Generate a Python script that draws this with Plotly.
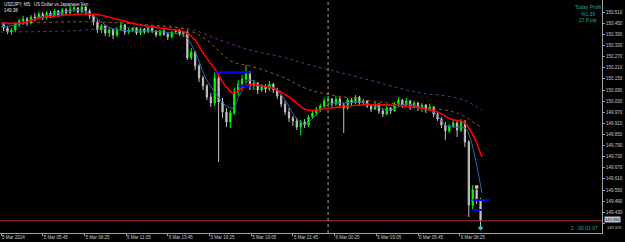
import plotly.graph_objects as go

# ---- data -------------------------------------------------------------
# 15-minute candles placed on the M5 bar index (bar 0 = 5 Mar 03:05)
candle_bar = list(range(2, 369, 3))

opens = [150.446, 150.425, 150.403, 150.414, 150.446, 150.463, 150.473, 150.452, 150.484, 150.479,
         150.500, 150.479, 150.506, 150.490, 150.517, 150.495, 150.522, 150.506, 150.527, 150.533,
         150.511, 150.538, 150.517, 150.490, 150.457, 150.414, 150.436, 150.398, 150.414, 150.387,
         150.419, 150.441, 150.403, 150.414, 150.425, 150.398, 150.419, 150.403, 150.425, 150.409,
         150.387, 150.409, 150.392, 150.376, 150.403, 150.414, 150.392, 150.403, 150.263, 150.295,
         150.220, 150.155, 150.112, 150.052, 150.020, 150.155, 150.025, 149.971, 149.917, 149.966,
         150.079, 150.122, 150.149, 150.176, 150.112, 150.128, 150.090, 150.112, 150.095, 150.122,
         150.090, 150.058, 150.014, 149.971, 149.939, 149.923, 149.890, 149.917, 149.901, 149.944,
         149.966, 149.987, 150.004, 150.031, 150.041, 150.014, 150.041, 150.009, 149.993, 150.036,
         150.020, 150.052, 150.020, 150.031, 150.004, 149.987, 150.014, 149.977, 149.960, 149.993,
         149.977, 150.014, 150.036, 150.009, 150.031, 149.998, 150.020, 149.993, 150.009, 149.982,
         149.998, 149.960, 149.933, 149.901, 149.869, 149.896, 149.912, 149.874, 149.917, 149.809,
         149.469, 149.550, 149.496]
highs = [150.457, 150.436, 150.425, 150.457, 150.473, 150.490, 150.484, 150.495, 150.506, 150.511,
         150.511, 150.517, 150.517, 150.527, 150.522, 150.533, 150.533, 150.544, 150.549, 150.538,
         150.554, 150.544, 150.527, 150.500, 150.468, 150.446, 150.441, 150.425, 150.419, 150.430,
         150.457, 150.446, 150.425, 150.430, 150.430, 150.425, 150.425, 150.430, 150.436, 150.414,
         150.414, 150.419, 150.398, 150.409, 150.419, 150.419, 150.409, 150.409, 150.317, 150.301,
         150.230, 150.166, 150.122, 150.074, 150.187, 150.166, 150.047, 149.993, 149.982, 150.101,
         150.144, 150.171, 150.225, 150.193, 150.144, 150.133, 150.122, 150.122, 150.139, 150.128,
         150.101, 150.068, 150.031, 149.993, 149.950, 149.939, 149.928, 149.933, 149.955, 149.982,
         149.998, 150.014, 150.047, 150.058, 150.047, 150.058, 150.052, 150.020, 150.047, 150.047,
         150.063, 150.058, 150.041, 150.036, 150.014, 150.025, 150.020, 149.987, 150.004, 149.998,
         150.025, 150.052, 150.041, 150.047, 150.036, 150.031, 150.025, 150.020, 150.014, 150.014,
         150.004, 149.971, 149.944, 149.917, 149.906, 149.928, 149.923, 149.933, 149.928, 149.820,
         149.577, 149.572, 149.507]
lows = [150.409, 150.392, 150.387, 150.403, 150.430, 150.441, 150.436, 150.446, 150.463, 150.473,
        150.468, 150.473, 150.479, 150.484, 150.484, 150.490, 150.495, 150.500, 150.511, 150.500,
        150.506, 150.500, 150.473, 150.441, 150.398, 150.398, 150.382, 150.376, 150.365, 150.376,
        150.409, 150.387, 150.392, 150.403, 150.387, 150.387, 150.392, 150.398, 150.398, 150.376,
        150.382, 150.382, 150.360, 150.371, 150.398, 150.382, 150.376, 150.252, 150.252, 150.198,
        150.133, 150.090, 150.036, 149.998, 150.004, 149.701, 149.939, 149.890, 149.885, 149.955,
        150.058, 150.101, 150.128, 150.090, 150.090, 150.068, 150.079, 150.074, 150.085, 150.074,
        150.041, 149.998, 149.955, 149.917, 149.896, 149.874, 149.847, 149.885, 149.890, 149.933,
        149.950, 149.971, 149.993, 150.014, 149.998, 150.004, 149.993, 149.858, 149.982, 150.004,
        150.014, 150.004, 150.009, 149.993, 149.971, 149.982, 149.960, 149.944, 149.955, 149.960,
        149.971, 150.004, 149.993, 149.998, 149.982, 149.993, 149.977, 149.971, 149.966, 149.977,
        149.944, 149.923, 149.885, 149.820, 149.858, 149.885, 149.836, 149.863, 149.782, 149.404,
        149.442, 149.474, 149.345]
closes = [150.425, 150.403, 150.414, 150.446, 150.463, 150.473, 150.452, 150.484, 150.479, 150.500,
          150.479, 150.506, 150.490, 150.517, 150.495, 150.522, 150.506, 150.527, 150.533, 150.511,
          150.538, 150.517, 150.490, 150.457, 150.414, 150.436, 150.398, 150.414, 150.387, 150.419,
          150.441, 150.403, 150.414, 150.425, 150.398, 150.419, 150.403, 150.425, 150.409, 150.387,
          150.409, 150.392, 150.376, 150.403, 150.414, 150.392, 150.403, 150.263, 150.295, 150.220,
          150.155, 150.112, 150.052, 150.020, 150.155, 150.025, 149.971, 149.917, 149.966, 150.079,
          150.122, 150.149, 150.176, 150.112, 150.128, 150.090, 150.112, 150.095, 150.122, 150.090,
          150.058, 150.014, 149.971, 149.939, 149.923, 149.890, 149.917, 149.901, 149.944, 149.966,
          149.987, 150.004, 150.031, 150.041, 150.014, 150.041, 150.009, 149.993, 150.036, 150.020,
          150.052, 150.020, 150.031, 150.004, 149.987, 150.014, 149.977, 149.960, 149.993, 149.977,
          150.014, 150.036, 150.009, 150.031, 149.998, 150.020, 149.993, 150.009, 149.982, 149.998,
          149.960, 149.933, 149.901, 149.869, 149.896, 149.912, 149.874, 149.917, 149.809, 149.469,
          149.550, 149.496, 149.384]

# moving averages (bar index, value)
red_ma_bar = [0, 15, 30, 51, 66, 76, 91, 107, 122, 141, 149, 155, 163, 173, 178, 183, 189, 196,
              212, 222, 235, 252, 276, 299, 322, 335, 345, 355, 360, 365, 369]
red_ma = [150.452, 150.452, 150.479, 150.495, 150.500, 150.495, 150.468, 150.441, 150.425, 150.403,
          150.360, 150.290, 150.214, 150.106, 150.074, 150.090, 150.117, 150.117, 150.090, 150.047,
          149.982, 149.993, 150.009, 150.009, 149.993, 149.971, 149.933, 149.917, 149.874, 149.804,
          149.728]
orange_ma_bar = [0, 45, 76, 114, 141, 158, 168, 178, 191, 216, 237, 268, 322, 350, 369]
orange_ma = [150.446, 150.457, 150.457, 150.441, 150.419, 150.360, 150.295, 150.241, 150.220,
             150.160, 150.090, 150.047, 149.998, 149.966, 149.885]
purple_ma_bar = [0, 53, 76, 114, 145, 168, 191, 216, 237, 268, 322, 337, 355, 369]
purple_ma = [150.403, 150.409, 150.419, 150.430, 150.419, 150.360, 150.306, 150.268, 150.225,
             150.171, 150.074, 150.063, 150.036, 149.982]
blue_ma_bar = [0, 15, 30, 45, 61, 72, 84, 99, 114, 130, 141, 149, 157, 164, 172, 178, 183, 191,
               199, 210, 218, 226, 233, 241, 252, 264, 276, 287, 299, 310, 322, 333, 341, 348,
               356, 360, 365, 369]
blue_ma = [150.430, 150.446, 150.484, 150.506, 150.522, 150.484, 150.425, 150.409, 150.409, 150.398,
           150.382, 150.295, 150.155, 150.079, 150.009, 149.993, 150.063, 150.144, 150.112, 150.101,
           150.036, 149.944, 149.906, 149.950, 150.014, 150.020, 150.025, 150.004, 149.982, 150.014,
           149.998, 149.966, 149.901, 149.890, 149.885, 149.831, 149.685, 149.534]

# horizontal order levels: (start bar, end bar, price)
order_levels = [(164, 191, 150.186), (182, 191, 150.112), (362, 375, 149.496), (361, 369, 149.442)]

trade_marker_bar = [365]
trade_marker_price = [149.566]
last_marker_bar = [368]
last_marker_price = [149.345]

bid_price = 149.384
day_separator_bar = 251

tick_bars = [0, 32, 64, 96, 128, 160, 192, 224, 256, 288, 320, 352]
tick_labels = ["5 Mar 2024", "5 Mar 05:45", "5 Mar 08:25", "5 Mar 11:05", "5 Mar 13:45",
               "5 Mar 16:25", "5 Mar 19:05", "5 Mar 21:45", "6 Mar 00:25", "6 Mar 03:05",
               "6 Mar 05:45", "6 Mar 08:25"]
price_ticks = [149.370, 149.430, 149.490, 149.550, 149.610, 149.670, 149.730, 149.790, 149.850,
               149.910, 149.970, 150.030, 150.090, 150.150, 150.210, 150.270, 150.330, 150.390,
               150.450, 150.510]
price_tick_text = [f"{v:.3f}" for v in price_ticks]
# the lowest level's text is drawn separately, just below the bid box
low_tick_text = price_tick_text[0]
price_tick_text[0] = ""

# ---- figure -----------------------------------------------------------
fig = go.Figure()

fig.add_trace(go.Candlestick(
    x=candle_bar, open=opens, high=highs, low=lows, close=closes,
    increasing=dict(line=dict(color="#00ff00", width=1), fillcolor="#00ff00"),
    decreasing=dict(line=dict(color="#c0c0c0", width=1), fillcolor="#c8c8c8"),
    whiskerwidth=0, showlegend=False, hoverinfo="skip"))

fig.add_trace(go.Scatter(x=blue_ma_bar, y=blue_ma, mode="lines",
                         line=dict(color="#2a6cb0", width=1, shape="spline"), hoverinfo="skip"))
fig.add_trace(go.Scatter(x=purple_ma_bar, y=purple_ma, mode="lines",
                         line=dict(color="#6a2c8c", width=1, dash="dot", shape="spline"), hoverinfo="skip"))
fig.add_trace(go.Scatter(x=orange_ma_bar, y=orange_ma, mode="lines",
                         line=dict(color="#a0521c", width=1, dash="dot", shape="spline"), hoverinfo="skip"))
fig.add_trace(go.Scatter(x=red_ma_bar, y=red_ma, mode="lines",
                         line=dict(color="#ff0000", width=1.6, shape="spline"), hoverinfo="skip"))

for b0, b1, p in order_levels:
    fig.add_trace(go.Scatter(x=[b0, b1], y=[p, p], mode="lines",
                             line=dict(color="#0000ff", width=2), hoverinfo="skip"))

fig.add_trace(go.Scatter(x=trade_marker_bar, y=trade_marker_price, mode="markers",
                         marker=dict(color="#e8a8a0", size=4, symbol="circle"), hoverinfo="skip"))
fig.add_trace(go.Scatter(x=last_marker_bar, y=last_marker_price, mode="markers",
                         marker=dict(color="#40c8c8", size=4, symbol="diamond"), hoverinfo="skip"))

fig.add_hline(y=bid_price, line=dict(color="#b22a2a", width=1))
fig.add_vline(x=day_separator_bar, line=dict(color="#a0a0a0", width=1, dash="dot"))

TXT = "Liberation Sans, Arial, sans-serif"
teal = "#1fa8a8"
fig.add_annotation(xref="paper", yref="paper", x=0.003, y=1.0, xanchor="left", yanchor="top",
                   text="USDJPY, M5:  US Dollar vs Japanese Yen", showarrow=False,
                   font=dict(family=TXT, size=4.5, color="#e0e0e0"))
fig.add_annotation(xref="paper", yref="paper", x=0.003, y=0.975, xanchor="left", yanchor="top",
                   text="149.38", showarrow=False, font=dict(family=TXT, size=4.5, color="#e0e0e0"))
for txt, yy in [("Today Profit", 0.99), ("%1.36", 0.962), ("27.8 pip", 0.936)]:
    fig.add_annotation(xref="paper", yref="paper", x=0.977, y=yy, xanchor="center", yanchor="top",
                       text=txt, showarrow=False, font=dict(family=TXT, size=5, color=teal))
fig.add_annotation(xref="paper", yref="paper", x=0.997, y=0.022, xanchor="right", yanchor="middle",
                   text="2 - 00:01:07", showarrow=False, font=dict(family=TXT, size=5, color=teal))
fig.add_annotation(xref="paper", yref="y", x=1.0, y=bid_price, xanchor="left", yanchor="middle",
                   xshift=2, yshift=1, text="149.384", showarrow=False, bgcolor="#b8c4d8", borderpad=0,
                   font=dict(family=TXT, size=4, color="#202020"))
fig.add_annotation(xref="paper", yref="y", x=1.0, y=price_ticks[0], xanchor="left", yanchor="top",
                   xshift=3, yshift=0, text=low_tick_text, showarrow=False,
                   font=dict(family=TXT, size=4, color="#c8c8c8"))

fig.update_layout(
    width=625, height=242, margin=dict(l=0, r=23, t=0, b=9),
    paper_bgcolor="#000000", plot_bgcolor="#000000", showlegend=False,
    font=dict(family=TXT, size=4.5, color="#c8c8c8"),
    boxgap=0.55,
)
fig.update_xaxes(range=[-0.77, 461.2], tickvals=tick_bars, ticktext=tick_labels,
                 ticks="outside", ticklen=2, tickcolor="#a0a0a0", showgrid=False, zeroline=False,
                 showline=True, linecolor="#a0a0a0", linewidth=1, rangeslider_visible=False,
                 ticklabelposition="outside right", tickfont=dict(size=4.5, color="#c8c8c8"))
fig.update_yaxes(range=[149.318, 150.576], side="right", tickvals=price_ticks,
                 ticktext=price_tick_text,
                 ticks="outside", ticklen=2, tickcolor="#a0a0a0", showgrid=False, zeroline=False,
                 showline=True, linecolor="#a0a0a0", linewidth=1,
                 tickfont=dict(size=4.5, color="#c8c8c8"))

fig.write_html("out.html")
